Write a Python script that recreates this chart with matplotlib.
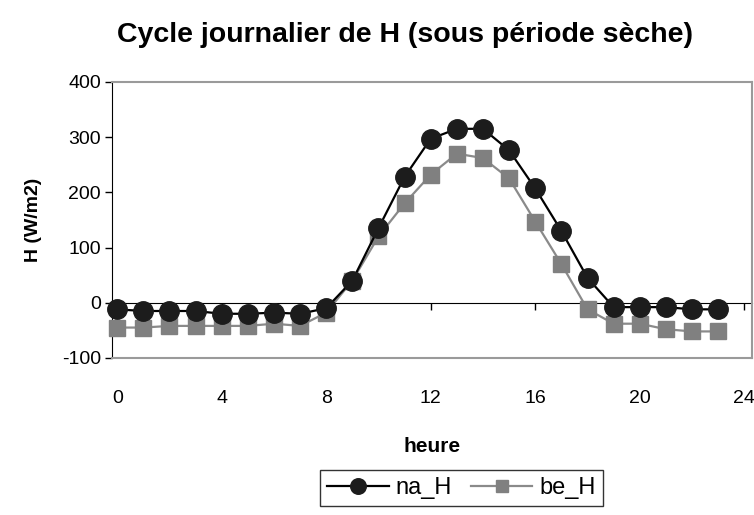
import matplotlib
matplotlib.use("Agg")
from matplotlib import pyplot as plt

hours = list(range(24))
na_H = [-12, -15, -15, -15, -20, -20, -18, -20, -10, 40, 135, 228,
        297, 315, 315, 276, 207, 130, 45, -8, -8, -8, -12, -12]
be_H = [-45, -45, -42, -42, -42, -42, -38, -42, -18, 40, 120, 180,
        232, 270, 262, 225, 147, 70, -12, -38, -38, -48, -52, -52]
x_ticks = [0, 4, 8, 12, 16, 20, 24]
y_ticks = [-100, 0, 100, 200, 300, 400]

plt.rcParams['font.family'] = ['Liberation Sans', 'DejaVu Sans']
plt.rcParams['axes.unicode_minus'] = False

fig = plt.figure(figsize=(7.54, 5.15), dpi=100)
ax = fig.add_axes([0.1485, 0.305, 0.849, 0.536])

ax.plot(hours, na_H, color='black', lw=1.6, marker='o', ms=14,
        mfc='#1c1c1c', mec='#1c1c1c', label='na_H', zorder=4, clip_on=False)
ax.plot(hours, be_H, color='#8a8a8a', lw=1.6, marker='s', ms=11,
        mfc='#808080', mec='#808080', label='be_H', zorder=3, clip_on=False)

ax.set_xlim(-0.2, 24.3)
ax.set_ylim(-100, 400)
ax.set_xticks(x_ticks)
ax.set_yticks(y_ticks)
ax.tick_params(axis='x', length=0, pad=23, labelsize=14)
ax.tick_params(axis='y', direction='out', length=5, width=1, labelsize=14, pad=3)

for side in ('top', 'right', 'bottom'):
    ax.spines[side].set_color('#9a9a9a')
    ax.spines[side].set_linewidth(1.5)
ax.spines['left'].set_color('black')

# horizontal axis line drawn at H = 0 with its tick marks
zero = ax.secondary_xaxis(100 / 500)
zero.set_xticks(x_ticks)
zero.tick_params(direction='out', length=5, width=1, labelbottom=False)
zero.spines['bottom'].set_color('black')

ax.set_ylabel('H (W/m2)', fontsize=14, fontweight='bold', labelpad=14)
ax.set_xlabel('heure', fontsize=15, fontweight='bold', labelpad=22)
fig.suptitle('Cycle journalier de H (sous période sèche)', fontsize=20.5,
             fontweight='bold', x=0.537, y=0.958)

leg = fig.legend(loc='upper left', bbox_to_anchor=(0.409, 0.11), ncol=2,
                 fontsize=17, frameon=True, fancybox=False, edgecolor='black',
                 handlelength=2.6, columnspacing=0.8, handletextpad=0.3,
                 borderpad=0.3, markerscale=0.8)
leg.get_frame().set_linewidth(1)

fig.savefig('out.png', dpi=100)
